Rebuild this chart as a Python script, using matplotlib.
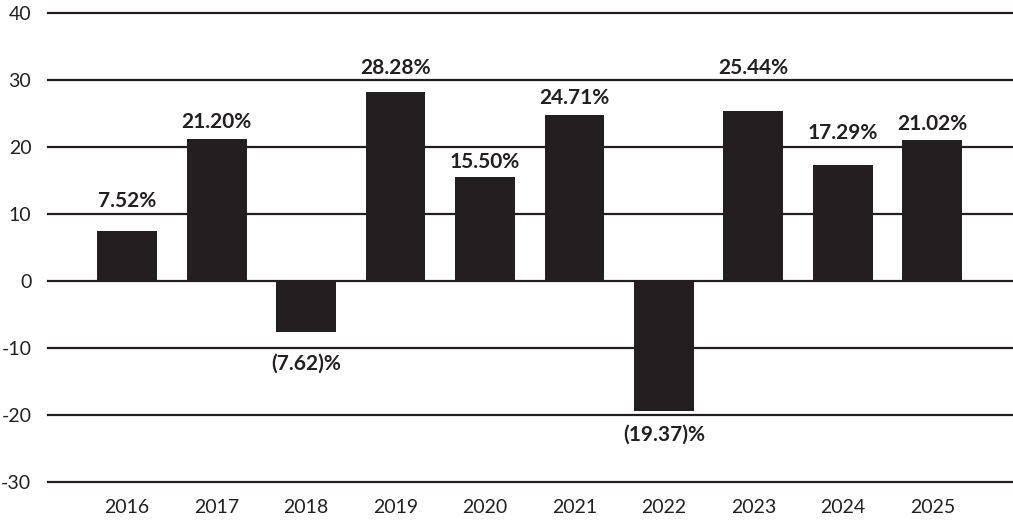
import numpy as np
import matplotlib
matplotlib.use('Agg')
import matplotlib.pyplot as plt

years = ['2016', '2017', '2018', '2019', '2020', '2021', '2022', '2023', '2024', '2025']
returns = [7.52, 21.20, -7.62, 28.28, 15.50, 24.71, -19.37, 25.44, 17.29, 21.02]
yticks = [-30, -20, -10, 0, 10, 20, 30, 40]

# where each value label sits (data units), picked by hand to dodge the grid lines
label_y = [12.0, 23.7, -12.4, 31.8, 17.8, 27.3, -23.0, 31.8, 22.1, 23.4]

dark = '#231f20'
plt.rcParams['font.family'] = ['Lato', 'DejaVu Sans']

fig = plt.figure(figsize=(10.13, 5.22), dpi=100)
ax = fig.add_axes([0.0474, 0.0766, 0.9526, 0.8985])

x = np.arange(len(years))
for t in yticks:
    ax.axhline(t, color=dark, lw=1.6, zorder=1, clip_on=False)
ax.bar(x, returns, width=0.67, color=dark, zorder=2)

for xi, v, ly in zip(x, returns, label_y):
    if v < 0:
        txt = '(%.2f)%%' % abs(v)
    else:
        txt = '%.2f%%' % v
    ax.text(xi, ly, txt, ha='center', va='center', fontsize=15,
            fontweight='bold', color=dark)

ax.set_xlim(-0.883, 9.9)
ax.set_ylim(-30, 40)
ax.set_yticks(yticks)
ax.set_yticklabels([str(t) for t in yticks])
ax.set_xticks(x)
ax.set_xticklabels(years)
ax.tick_params(axis='y', length=0, pad=12, labelsize=14, labelcolor=dark)
ax.tick_params(axis='x', length=0, pad=12, labelsize=14, labelcolor=dark)
for s in ax.spines.values():
    s.set_visible(False)

fig.savefig('out.png', dpi=100)
